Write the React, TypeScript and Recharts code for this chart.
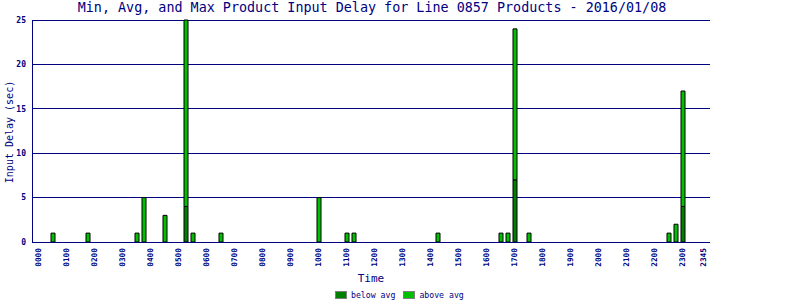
import React from 'react';
import { BarChart, Bar, XAxis, YAxis, CartesianGrid } from 'recharts';

// 15-minute time slots across the day (category axis)
const hours = ['00','01','02','03','04','05','06','07','08','09','10','11','12','13','14','15','16','17','18','19','20','21','22','23'];
const quarters = ['00','15','30','45'];
const slots: string[] = hours.flatMap((h) => quarters.map((q) => h + q));

// tick labels shown on the time axis
const timeTicks = ['0000','0100','0200','0300','0400','0500','0600','0700','0800','0900','1000','1100','1200','1300','1400','1500','1600','1700','1800','1900','2000','2100','2200','2300','2345'];
const delayTicks = [0, 5, 10, 15, 20, 25];

// slots that have products, with their delay split (sec)
const barTimes = ['0030','0145','0330','0345','0430','0515','0530','0630','1000','1100','1115','1415','1630','1645','1700','1730','2230','2245','2300'];
const belowAvg = [0, 0, 0, 0, 0, 4, 0, 0, 0, 0, 0, 0, 0, 0, 7, 0, 0, 0, 4];
const aboveAvg = [1, 1, 1, 5, 3, 21, 1, 1, 5, 1, 1, 1, 1, 1, 17, 1, 1, 2, 13];

const data = slots.map((t) => {
  const i = barTimes.indexOf(t);
  return {
    t,
    below: i >= 0 ? belowAvg[i] : 0,
    above: i >= 0 ? aboveAvg[i] : 0,
  };
});

const NAVY = '#000080';
const MONO = '"DejaVu Sans Mono", "Liberation Mono", monospace';

const XTick = (props: any) => {
  const { x, y, payload } = props;
  return (
    <text
      x={x}
      y={y}
      transform={`rotate(-90 ${x} ${y})`}
      textAnchor="end"
      dominantBaseline="central"
      fill={NAVY}
      fontFamily={MONO}
      fontSize={7.8}
      fontWeight="bold"
    >
      {payload.value}
    </text>
  );
};

const YLabel = () => (
  <text
    x={9}
    y={132}
    transform="rotate(-90 9 132)"
    textAnchor="middle"
    dominantBaseline="central"
    fill={NAVY}
    fontFamily={MONO}
    fontSize={10}
  >
    Input Delay (sec)
  </text>
);

export default function App() {
  return (
    <div style={{ position: 'absolute', left: 0, top: 0, width: 800, height: 300, background: '#fff' }}>
      <div
        style={{
          position: 'absolute',
          left: 2,
          width: 740,
          top: 0,
          textAlign: 'center',
          fontFamily: MONO,
          fontSize: 13.4,
          lineHeight: '15px',
          color: NAVY,
          whiteSpace: 'nowrap',
        }}
      >
        Min, Avg, and Max Product Input Delay for Line 0857 Products - 2016/01/08
      </div>
      <BarChart
        width={800}
        height={300}
        data={data}
        margin={{ top: 20, right: 90, left: 0, bottom: 18 }}
        barSize={4}
      >
        <CartesianGrid vertical={false} stroke={NAVY} strokeWidth={1} shapeRendering="crispEdges" />
        <XAxis
          dataKey="t"
          ticks={timeTicks}
          interval={0}
          height={40}
          padding={{ left: 3, right: 3 }}
          axisLine={{ stroke: NAVY, shapeRendering: 'crispEdges' }}
          tickLine={false}
          tickSize={6}
          tickMargin={0}
          tick={<XTick />}
          label={{ value: 'Time', position: 'insideBottom', offset: 0, fill: NAVY, fontFamily: MONO, fontSize: 11 }}
        />
        <YAxis
          width={32}
          domain={[0, 25]}
          ticks={delayTicks}
          interval={0}
          axisLine={{ stroke: NAVY, shapeRendering: 'crispEdges' }}
          tickLine={false}
          tickSize={6}
          tickMargin={0}
          tick={{ fill: NAVY, fontFamily: MONO, fontSize: 8, fontWeight: 'bold' }}
          label={<YLabel />}
        />
        <YAxis
          yAxisId="r"
          orientation="right"
          width={0}
          domain={[0, 25]}
          tick={false}
          tickLine={false}
          axisLine={{ stroke: NAVY, shapeRendering: 'crispEdges' }}
        />
        <Bar dataKey="below" stackId="a" fill="#008000" stroke="#000" strokeWidth={1} isAnimationActive={false} />
        <Bar dataKey="above" stackId="a" fill="#00c000" stroke="#000" strokeWidth={1} isAnimationActive={false} />
      </BarChart>
      <div
        style={{
          position: 'absolute',
          left: 335,
          top: 289,
          display: 'flex',
          alignItems: 'center',
          fontFamily: MONO,
          fontSize: 8.2,
          lineHeight: '12px',
          color: NAVY,
          whiteSpace: 'nowrap',
        }}
      >
        <span style={{ display: 'inline-block', width: 10, height: 6, background: '#008000', border: '1px solid #808080' }} />
        <span style={{ marginLeft: 4 }}>below avg</span>
        <span style={{ display: 'inline-block', width: 10, height: 6, background: '#00c000', border: '1px solid #808080', marginLeft: 8 }} />
        <span style={{ marginLeft: 4 }}>above avg</span>
      </div>
    </div>
  );
}
